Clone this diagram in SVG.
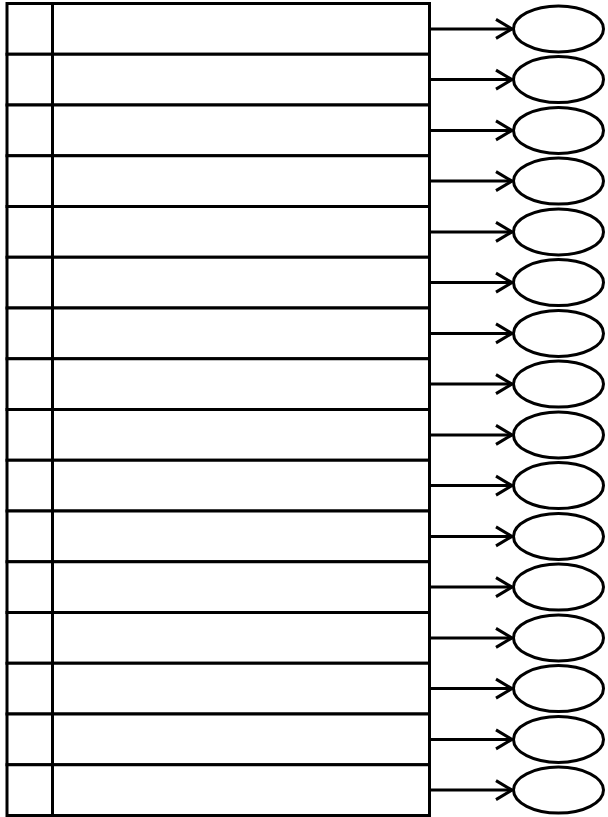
<svg xmlns="http://www.w3.org/2000/svg" width="608" height="817" viewBox="0 0 608 817">
<style>
.box{fill:#fff;stroke:#000;stroke-width:3}
.div{stroke:#000;stroke-width:3}
.ell{fill:#fff;stroke:#000;stroke-width:3}
.con{fill:none;stroke:#000;stroke-width:3;marker-end:url(#ah)}
</style>
<defs>
<marker id="ah" markerUnits="userSpaceOnUse" markerWidth="24" markerHeight="24" viewBox="-20 -12 24 24" refX="0" refY="0" orient="auto" overflow="visible">
<path d="M-16,-9.5 L0,0 L-16,9.5" fill="none" stroke="#000" stroke-width="3"/>
</marker>
<g id="rowshape"><rect class="box" x="7" y="0" width="422.5" height="50.75"/><line class="div" x1="52.5" y1="0" x2="52.5" y2="50.75"/></g>
</defs>
<g id="rows">
<g id="row1" transform="translate(0,3.5)"><use href="#rowshape"/></g>
<g id="row2" transform="translate(0,54.25)"><use href="#rowshape"/></g>
<g id="row3" transform="translate(0,105)"><use href="#rowshape"/></g>
<g id="row4" transform="translate(0,155.75)"><use href="#rowshape"/></g>
<g id="row5" transform="translate(0,206.5)"><use href="#rowshape"/></g>
<g id="row6" transform="translate(0,257.25)"><use href="#rowshape"/></g>
<g id="row7" transform="translate(0,308)"><use href="#rowshape"/></g>
<g id="row8" transform="translate(0,358.75)"><use href="#rowshape"/></g>
<g id="row9" transform="translate(0,409.5)"><use href="#rowshape"/></g>
<g id="row10" transform="translate(0,460.25)"><use href="#rowshape"/></g>
<g id="row11" transform="translate(0,511)"><use href="#rowshape"/></g>
<g id="row12" transform="translate(0,561.75)"><use href="#rowshape"/></g>
<g id="row13" transform="translate(0,612.5)"><use href="#rowshape"/></g>
<g id="row14" transform="translate(0,663.25)"><use href="#rowshape"/></g>
<g id="row15" transform="translate(0,714)"><use href="#rowshape"/></g>
<g id="row16" transform="translate(0,764.75)"><use href="#rowshape"/></g>
</g>
<g id="ellipses">
<g id="oval1"><ellipse class="ell" cx="558.5" cy="28.9" rx="45" ry="23"/></g>
<g id="oval2"><ellipse class="ell" cx="558.5" cy="79.6" rx="45" ry="23"/></g>
<g id="oval3"><ellipse class="ell" cx="558.5" cy="130.4" rx="45" ry="23"/></g>
<g id="oval4"><ellipse class="ell" cx="558.5" cy="181.1" rx="45" ry="23"/></g>
<g id="oval5"><ellipse class="ell" cx="558.5" cy="231.9" rx="45" ry="23"/></g>
<g id="oval6"><ellipse class="ell" cx="558.5" cy="282.6" rx="45" ry="23"/></g>
<g id="oval7"><ellipse class="ell" cx="558.5" cy="333.4" rx="45" ry="23"/></g>
<g id="oval8"><ellipse class="ell" cx="558.5" cy="384.1" rx="45" ry="23"/></g>
<g id="oval9"><ellipse class="ell" cx="558.5" cy="434.9" rx="45" ry="23"/></g>
<g id="oval10"><ellipse class="ell" cx="558.5" cy="485.6" rx="45" ry="23"/></g>
<g id="oval11"><ellipse class="ell" cx="558.5" cy="536.4" rx="45" ry="23"/></g>
<g id="oval12"><ellipse class="ell" cx="558.5" cy="587.1" rx="45" ry="23"/></g>
<g id="oval13"><ellipse class="ell" cx="558.5" cy="637.9" rx="45" ry="23"/></g>
<g id="oval14"><ellipse class="ell" cx="558.5" cy="688.6" rx="45" ry="23"/></g>
<g id="oval15"><ellipse class="ell" cx="558.5" cy="739.4" rx="45" ry="23"/></g>
<g id="oval16"><ellipse class="ell" cx="558.5" cy="790.1" rx="45" ry="23"/></g>
</g>
<g id="connectors">
<path class="con" d="M431,28.9 H512"/>
<path class="con" d="M431,79.6 H512"/>
<path class="con" d="M431,130.4 H512"/>
<path class="con" d="M431,181.1 H512"/>
<path class="con" d="M431,231.9 H512"/>
<path class="con" d="M431,282.6 H512"/>
<path class="con" d="M431,333.4 H512"/>
<path class="con" d="M431,384.1 H512"/>
<path class="con" d="M431,434.9 H512"/>
<path class="con" d="M431,485.6 H512"/>
<path class="con" d="M431,536.4 H512"/>
<path class="con" d="M431,587.1 H512"/>
<path class="con" d="M431,637.9 H512"/>
<path class="con" d="M431,688.6 H512"/>
<path class="con" d="M431,739.4 H512"/>
<path class="con" d="M431,790.1 H512"/>
</g>
</svg>
